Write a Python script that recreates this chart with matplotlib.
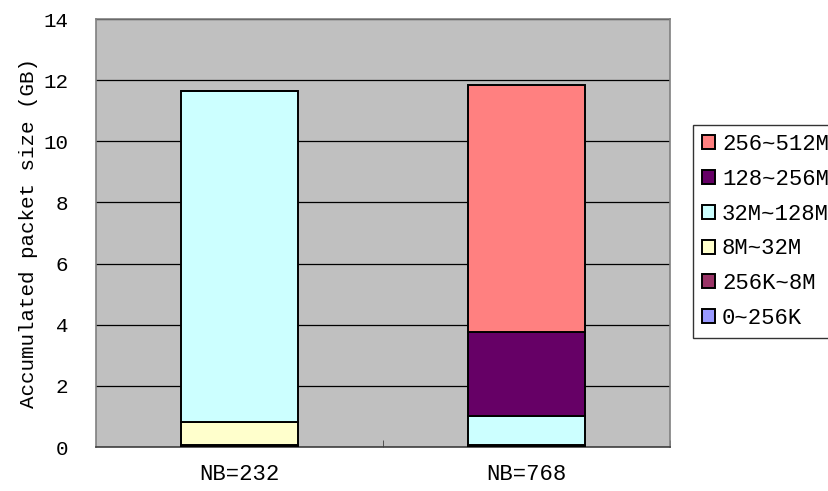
import numpy as np
import matplotlib
matplotlib.use("Agg")
from matplotlib import pyplot as plt
from matplotlib.patches import Patch

# values (GB)
groups = ['NB=232', 'NB=768']
sizes = ['0~256K', '256K~8M', '8M~32M', '32M~128M', '128~256M', '256~512M']
s_0_256k = [0.01, 0.01]
s_256k_8m = [0.04, 0.03]
s_8m_32m = [0.78, 0.01]
s_32m_128m = [10.80, 0.95]
s_128m_256m = [0.0, 2.76]
s_256m_512m = [0.0, 8.08]
series = [s_0_256k, s_256k_8m, s_8m_32m, s_32m_128m, s_128m_256m, s_256m_512m]
colors = ['#9999FF', '#993366', '#FFFFCC', '#CCFFFF', '#660066', '#FF8080']

plt.rcParams['font.family'] = ['Liberation Mono', 'DejaVu Sans']

fig = plt.figure(figsize=(8.29, 4.91), dpi=100)
ax = fig.add_axes([0.1158, 0.0896, 0.6925, 0.8717])
ax.set_facecolor('#C0C0C0')

x = np.arange(len(groups))
bottom = np.zeros(len(groups))
for vals, col in zip(series, colors):
    ax.bar(x, vals, width=0.405, bottom=bottom, color=col,
           edgecolor='black', linewidth=1.4, zorder=3)
    bottom += np.array(vals)

ax.set_xlim(-0.5, 1.5)
ax.set_ylim(0, 14)
ax.set_yticks(range(0, 15, 2))
ax.yaxis.grid(True, color='black', linewidth=0.9, zorder=1)
ax.set_axisbelow(True)
ax.tick_params(axis='y', length=0, labelsize=15, pad=20)
ax.set_xticks(x)
ax.set_xticklabels(groups)
ax.tick_params(axis='x', length=0, labelsize=16, pad=12)
ax.set_xticks([0.5, 1.5], minor=True)
ax.tick_params(axis='x', which='minor', direction='in', length=5, color='#404040')
ax.set_ylabel('Accumulated packet size (GB)', fontsize=15, labelpad=4)
for sp in ax.spines.values():
    sp.set_color('#808080')
    sp.set_linewidth(1.2)
ax.spines['bottom'].set_color('#404040')

handles = [Patch(facecolor=c, edgecolor='black', linewidth=1.4) for c in colors]
fig.legend(handles[::-1], sizes[::-1], loc='upper left',
           bbox_to_anchor=(0.836, 0.745), fontsize=16, frameon=True,
           fancybox=False, edgecolor='black', handlelength=0.6,
           handleheight=0.6, handletextpad=0.3, labelspacing=0.62,
           borderpad=0.4, borderaxespad=0)

fig.savefig('out.png', dpi=100)
